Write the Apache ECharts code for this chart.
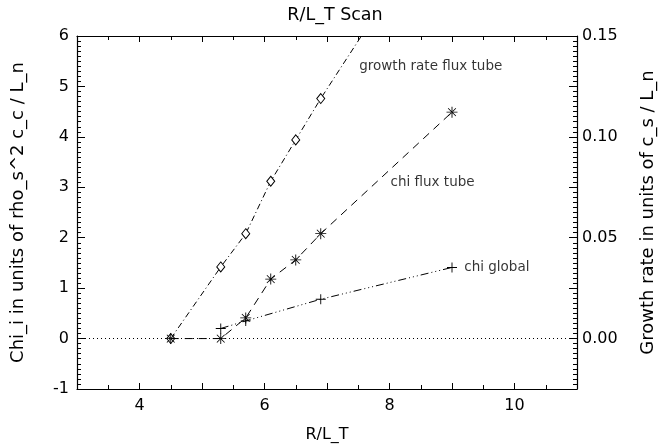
<!DOCTYPE html>
<html>
<head>
<meta charset="utf-8">
<script src="https://cdn.jsdelivr.net/npm/echarts@6/dist/echarts.min.js"></script>
<style>
  html, body { margin: 0; padding: 0; background: #fff; }
  #rlt-scan-chart { width: 665px; height: 447px; }
</style>
</head>
<body>
<div id="rlt-scan-chart"></div>
<script>
// values
const growthX = [4.5, 5.3, 5.7, 6.1, 6.5, 6.9, 7.55];
const growthRate = [0, 0.0355, 0.052, 0.078, 0.0985, 0.119, 0.15]; // last one: fit line leaving the frame
const chiTubeX = [4.5, 5.3, 5.7, 6.1, 6.5, 6.9, 9.0];
const chiTube = [0, 0, 0.41, 1.18, 1.56, 2.08, 4.49];
const chiGlobalX = [5.3, 5.7, 6.9, 9.0];
const chiGlobal = [0.2, 0.35, 0.78, 1.41];
const noteLabels = [
  [7.42, 5.39, "growth rate flux tube"],
  [7.92, 3.09, "chi flux tube"],
  [9.1, 1.41, "chi global"]
];
const xTickLabels = [4, 6, 8, 10];
const rightTickLabels = [0, 0.05, 0.1, 0.15];

const FONT = "DejaVu Sans";

// asterisk and plus drawn as thin bars
const starPath = "path://M-0.8,-10H0.8V10H-0.8Z M-10,-0.8H10V0.8H-10Z M-7.6,-6.5L-6.5,-7.6L7.6,6.5L6.5,7.6Z M7.6,-6.5L6.5,-7.6L-7.6,6.5L-6.5,7.6Z";
const plusPath = "path://M-0.9,-10H0.9V10H-0.9Z M-10,-0.9H10V0.9H-10Z";

function pairs(xs, ys) {
  return xs.map((x, i) => [x, ys[i]]);
}

let chart = echarts.init(document.getElementById("rlt-scan-chart"));

let xBase = {
  type: "value",
  min: 3,
  max: 11,
  interval: 1,
  axisLine: { show: true, onZero: false, lineStyle: { color: "#000", width: 1.2 } },
  axisTick: { show: true, inside: true, length: 6, lineStyle: { color: "#000" } },
  minorTick: { show: true, splitNumber: 2, length: 4, lineStyle: { color: "#000" } },
  splitLine: { show: false },
  minorSplitLine: { show: false }
};

let option = {
  backgroundColor: "#fff",
  animation: false,
  title: {
    text: "R/L_T Scan",
    left: 330,
    textAlign: "center",
    top: 1,
    textStyle: { fontFamily: FONT, fontSize: 17.5, fontWeight: "normal", color: "#000" }
  },
  grid: { left: 77, right: 88, top: 36, bottom: 58, containLabel: false, outerBoundsMode: "none" },
  xAxis: [
    Object.assign({}, xBase, {
      position: "bottom",
      name: "R/L_T",
      nameLocation: "middle",
      nameGap: 38,
      nameTextStyle: { fontFamily: FONT, fontSize: 16, color: "#000" },
      axisLabel: {
        color: "#000",
        fontFamily: FONT,
        fontSize: 16,
        margin: 9,
        formatter: v => (xTickLabels.indexOf(Math.round(v * 100) / 100) >= 0 ? String(v) : "")
      }
    }),
    Object.assign({}, xBase, { position: "top", axisLabel: { show: false } })
  ],
  yAxis: [
    {
      type: "value",
      min: -1,
      max: 6,
      interval: 1,
      position: "left",
      name: "Chi_i in units of rho_s^2 c_c / L_n",
      nameLocation: "middle",
      nameGap: 50,
      nameTextStyle: { fontFamily: FONT, fontSize: 18, color: "#000" },
      axisLine: { show: true, onZero: false, lineStyle: { color: "#000", width: 1.2 } },
      axisTick: { show: true, inside: true, length: 8, lineStyle: { color: "#000" } },
      minorTick: { show: true, splitNumber: 10, length: 4, lineStyle: { color: "#000" } },
      axisLabel: { color: "#000", fontFamily: FONT, fontSize: 16, margin: 8 },
      splitLine: { show: false }
    },
    {
      type: "value",
      min: -0.025,
      max: 0.15,
      interval: 0.025,
      position: "right",
      name: "Growth rate in units of c_s / L_n",
      nameLocation: "middle",
      nameGap: 62,
      nameRotate: 90,
      nameTextStyle: { fontFamily: FONT, fontSize: 18, color: "#000" },
      axisLine: { show: true, onZero: false, lineStyle: { color: "#000", width: 1.2 } },
      axisTick: { show: true, inside: true, length: 8, lineStyle: { color: "#000" } },
      minorTick: { show: true, splitNumber: 10, length: 4, lineStyle: { color: "#000" } },
      axisLabel: {
        color: "#000",
        fontFamily: FONT,
        fontSize: 16,
        margin: 5,
        formatter: v => {
          let hit = rightTickLabels.find(t => Math.abs(t - v) < 1e-6);
          return hit === undefined ? "" : hit.toFixed(2);
        }
      },
      splitLine: { show: false }
    }
  ],
  series: [
    {
      name: "growth rate flux tube",
      type: "line",
      yAxisIndex: 1,
      data: pairs(growthX, growthRate).map((p, i) =>
        i === growthX.length - 1 ? { value: p, symbol: "none" } : p
      ),
      symbol: "diamond",
      symbolSize: [8, 10],
      itemStyle: { color: "#fff", borderColor: "#000", borderWidth: 1 },
      lineStyle: { color: "#000", width: 1, type: [6, 3, 1, 3] },
      z: 3
    },
    {
      name: "chi flux tube",
      type: "line",
      data: pairs(chiTubeX, chiTube),
      symbol: starPath,
      symbolSize: 11,
      itemStyle: { color: "#000" },
      lineStyle: { color: "#000", width: 1, type: [8, 6] },
      markLine: {
        silent: true,
        symbol: "none",
        label: { show: false },
        lineStyle: { color: "#000", width: 1, type: [1, 3] },
        data: [{ yAxis: 0 }]
      },
      z: 4
    },
    {
      name: "chi global",
      type: "line",
      data: pairs(chiGlobalX, chiGlobal),
      symbol: plusPath,
      symbolSize: 10,
      itemStyle: { color: "#000" },
      lineStyle: { color: "#000", width: 1, type: [8, 3, 1, 3, 1, 3, 1, 3] },
      z: 4
    },
    {
      name: "notes",
      type: "scatter",
      data: noteLabels,
      symbolSize: 0,
      label: {
        show: true,
        position: "right",
        distance: 6,
        formatter: p => p.value[2],
        fontFamily: FONT,
        fontSize: 13.5,
        color: "#000"
      },
      z: 5
    }
  ]
};

chart.setOption(option);
</script>
</body>
</html>
